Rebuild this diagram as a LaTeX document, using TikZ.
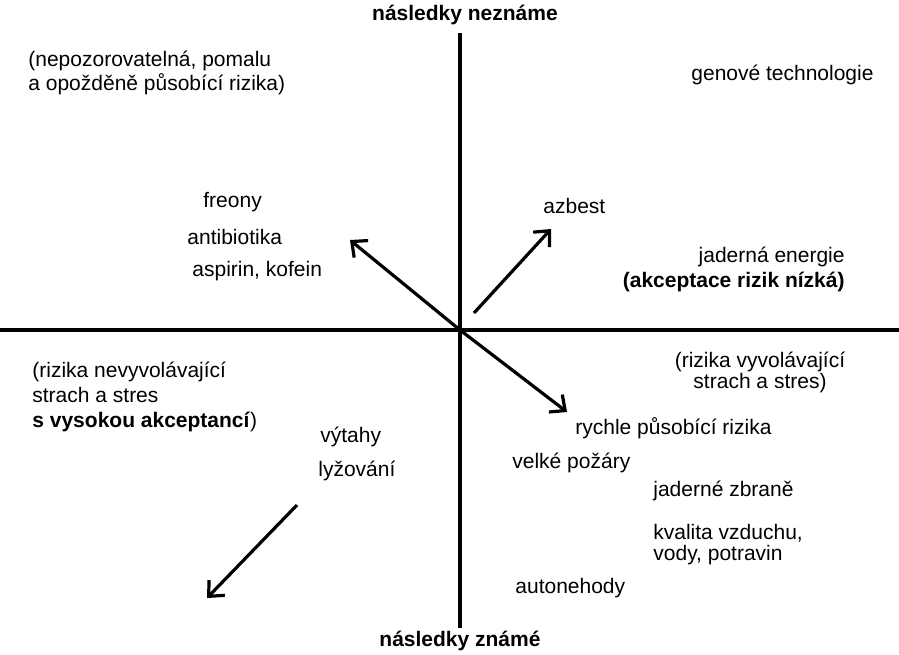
\documentclass[tikz,border=0pt]{standalone}
\usepackage{fontspec}
\setmainfont{Liberation Sans}
\usetikzlibrary{arrows.meta}

\begin{document}
\begin{tikzpicture}[x=0.5pt,y=-0.5pt,
	every node/.style={inner sep=0pt, font=\fontsize{10.5}{10.5}\selectfont},
	osa/.style={line width=1.6pt},
	sipka/.style={line width=1.6pt, -{Straight Barb[length=6pt,width=11pt,line width=1.6pt]}},
	tucne/.style={font=\fontsize{10.5}{10.5}\selectfont\bfseries}]
	\useasboundingbox (0,0) rectangle (899,654);
	% osy
	\node[tucne] (nahore) at (465,15) {následky neznáme};
	\node[tucne] (dole) at (460,641) {následky známé};
	\coordinate (osaN) at (460,33);
	\coordinate (osaD) at (460,628);
	\coordinate (osaL) at (0,330);
	\coordinate (osaP) at (899,330);
	\coordinate (stred) at (460,330);
	\draw[osa] (osaN) -- (osaD);
	\draw[osa] (osaL) -- (osaP);
	% sipky
	\coordinate (s1) at (350,240);
	\coordinate (s2a) at (474,313);
	\coordinate (s2) at (551,229);
	\coordinate (s3) at (567,412);
	\coordinate (s4a) at (297,505);
	\coordinate (s4) at (207,598);
	\draw[sipka] (stred) -- (s1);
	\draw[sipka] (s2a) -- (s2);
	\draw[sipka] (stred) -- (s3);
	\draw[sipka] (s4a) -- (s4);
	% levy horni kvadrant
	\node[anchor=west, align=left] (pomalu) at (28,73) {(nepozorovatelná, pomalu\\a opožděně působící rizika)};
	\node[anchor=west] (freony) at (203,202) {freony};
	\node[anchor=west] (antib) at (187,237) {antibiotika};
	\node[anchor=west] (aspirin) at (192,271) {aspirin, kofein};
	% pravy horni kvadrant
	\node[anchor=west] (genove) at (691,75) {genové technologie};
	\node[anchor=west] (azbest) at (543,206) {azbest};
	\node[anchor=east] (jaderna) at (845,257) {jaderná energie};
	\node[anchor=east, tucne] (akceptace) at (845,282) {(akceptace rizik nízká)};
	% levy dolni kvadrant
	\node[anchor=west, align=left] (nevyvol) at (32,397) {(rizika nevyvolávající\\[2pt]strach a stres\\[2pt]\textbf{s vysokou akceptancí})};
	\node[anchor=west] (vytahy) at (320,437) {výtahy};
	\node[anchor=west] (lyzovani) at (318,471) {lyžování};
	% pravy dolni kvadrant
	\node[align=center] (vyvol) at (760,372) {(rizika vyvolávající\\strach a stres)};
	\node[anchor=west] (rychle) at (575,428) {rychle působící rizika};
	\node[anchor=west] (pozary) at (512,463) {velké požáry};
	\node[anchor=west] (zbrane) at (653,491) {jaderné zbraně};
	\node[anchor=west, align=left] (kvalita) at (653,545) {kvalita vzduchu,\\vody, potravin};
	\node[anchor=west] (auto) at (515,588) {autonehody};
\end{tikzpicture}
\end{document}
